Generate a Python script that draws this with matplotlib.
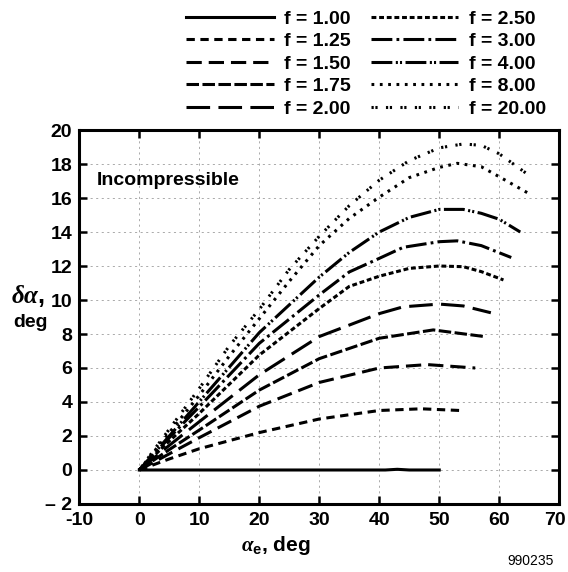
import matplotlib
matplotlib.use('Agg')
import matplotlib.pyplot as plt
import matplotlib.transforms as mtransforms

plt.rcParams['font.family'] = ['Liberation Sans', 'DejaVu Sans']
plt.rcParams['font.weight'] = 'bold'
plt.rcParams['mathtext.fontset'] = 'custom'
plt.rcParams['mathtext.it'] = 'Liberation Serif:italic'
plt.rcParams['mathtext.rm'] = 'Liberation Serif'
plt.rcParams['mathtext.bf'] = 'Liberation Sans:bold'
plt.rcParams['lines.scale_dashes'] = False

# data
f_labels = ['f = 1.00', 'f = 1.25', 'f = 1.50', 'f = 1.75', 'f = 2.00',
            'f = 2.50', 'f = 3.00', 'f = 4.00', 'f = 8.00', 'f = 20.00']

x_f100 = [0, 41, 43, 45, 50]
y_f100 = [0, 0, 0.04, 0, 0]

x_f125 = [0, 5, 10, 20, 30, 40, 47, 53.5]
y_f125 = [0, 0.65, 1.25, 2.2, 3.0, 3.5, 3.6, 3.5]

x_f150 = [0, 5, 10, 20, 30, 40, 48, 56]
y_f150 = [0, 0.95, 1.9, 3.75, 5.15, 6.0, 6.2, 6.0]

x_f175 = [0, 5, 10, 20, 30, 40, 49, 57.5]
y_f175 = [0, 1.2, 2.35, 4.7, 6.55, 7.75, 8.24, 7.85]

x_f200 = [0, 5, 10, 20, 30, 40, 44, 50, 54, 58.6]
y_f200 = [0, 1.45, 2.84, 5.6, 7.85, 9.2, 9.6, 9.76, 9.65, 9.25]

x_f250 = [0, 5, 10, 20, 30, 35, 40, 45, 50, 54, 57, 60.7]
y_f250 = [0, 1.7, 3.33, 6.76, 9.5, 10.8, 11.4, 11.86, 12.0, 11.96, 11.67, 11.18]

x_f300 = [0, 5, 10, 20, 30, 35, 40, 44, 50, 53, 57, 62]
y_f300 = [0, 1.9, 3.72, 7.45, 10.3, 11.65, 12.45, 13.1, 13.43, 13.48, 13.2, 12.5]

x_f400 = [0, 5, 10, 20, 30, 35, 40, 45, 50, 54, 57, 60, 63.5]
y_f400 = [0, 2.0, 4.02, 8.08, 11.35, 12.8, 14.0, 14.86, 15.33, 15.33, 15.1, 14.75, 14.0]

x_f800 = [0, 5, 10, 15, 20, 25, 30, 35, 40, 45, 50, 53, 57, 60, 65]
y_f800 = [0, 2.2, 4.4, 6.7, 8.9, 11.1, 13.2, 14.8, 16.05, 17.2, 17.8, 18.04, 17.84, 17.25, 16.25]

x_f2000 = [0, 5, 10, 15, 20, 25, 30, 35, 40, 45, 50, 54, 57, 60, 65.5]
y_f2000 = [0, 2.4, 4.8, 7.3, 9.45, 11.8, 13.75, 15.55, 17.05, 18.2, 18.95, 19.18, 19.1, 18.6, 17.2]

x_ticks = [-10, 0, 10, 20, 30, 40, 50, 60, 70]
x_ticklabels = ['-10', '0', '10', '20', '30', '40', '50', '60', '70']
y_ticks = [-2, 0, 2, 4, 6, 8, 10, 12, 14, 16, 18, 20]
y_ticklabels = ['\u2013 2', '0', '2', '4', '6', '8', '10', '12', '14', '16', '18', '20']

xs = [x_f100, x_f125, x_f150, x_f175, x_f200, x_f250, x_f300, x_f400, x_f800, x_f2000]
ys = [y_f100, y_f125, y_f150, y_f175, y_f200, y_f250, y_f300, y_f400, y_f800, y_f2000]

# line dash patterns (points)
dash_list = [
    None,
    (0, (6, 4)),
    (0, (11, 5)),
    (0, (9, 2.5)),
    (0, (17, 6)),
    (0, (3.5, 2)),
    (0, (15, 3, 2, 3)),
    (0, (15, 2.5, 1.5, 1.5, 1.5, 2.5)),
    (0, (2, 4)),
    (0, (1.6, 1.2, 1.6, 6)),
]

fig = plt.figure(figsize=(5.68, 5.72), dpi=100)
ax = fig.add_axes([0.1396, 0.1189, 0.845, 0.6538])

handles = []
for i in range(len(xs)):
    ls = '-' if dash_list[i] is None else dash_list[i]
    h, = ax.plot(xs[i], ys[i], color='black', linewidth=2.2, linestyle=ls,
                 label=f_labels[i])
    handles.append(h)

ax.set_xlim(-10, 70)
ax.set_ylim(-2, 20)
ax.set_xticks(x_ticks)
ax.set_xticklabels(x_ticklabels)
ax.set_yticks(y_ticks)
ax.set_yticklabels(y_ticklabels)
ax.tick_params(direction='in', length=6, width=1.8, labelsize=14,
               top=True, right=True)
ax.tick_params(axis='x', pad=6)
ax.tick_params(axis='y', pad=5)
for s in ax.spines.values():
    s.set_linewidth(2.2)
ax.grid(True, color='#aaaaaa', linestyle=(0, (1.5, 2.5)), linewidth=0.7)

# last x label sits against the right edge, nudge it in a little
last = ax.get_xticklabels()[-1]
last.set_transform(last.get_transform() + mtransforms.ScaledTranslation(-4 / 100, 0, fig.dpi_scale_trans))

ax.text(-7.1, 17.05, 'Incompressible', fontsize=14, fontweight='bold',
        va='center', ha='left')

leg = fig.legend(handles=handles, ncol=2, loc='upper right',
                 bbox_to_anchor=(0.985, 1.006), frameon=False, fontsize=14,
                 handlelength=4.5, handletextpad=0.55, columnspacing=1.0,
                 labelspacing=0.25, borderpad=0.2)

# axis labels
fig.text(0.05, 0.483, r'$\delta\alpha$,', fontsize=18, ha='center', va='center')
fig.text(0.053, 0.437, 'deg', fontsize=14, fontweight='bold', ha='center', va='center')
fig.text(0.485, 0.047, r'$\alpha_\mathbf{e}$, deg', fontsize=15, fontweight='bold',
         ha='center', va='center')
fig.text(0.975, 0.02, '990235', fontsize=10, fontweight='normal', ha='right', va='center')

fig.savefig('out.png', dpi=100)
